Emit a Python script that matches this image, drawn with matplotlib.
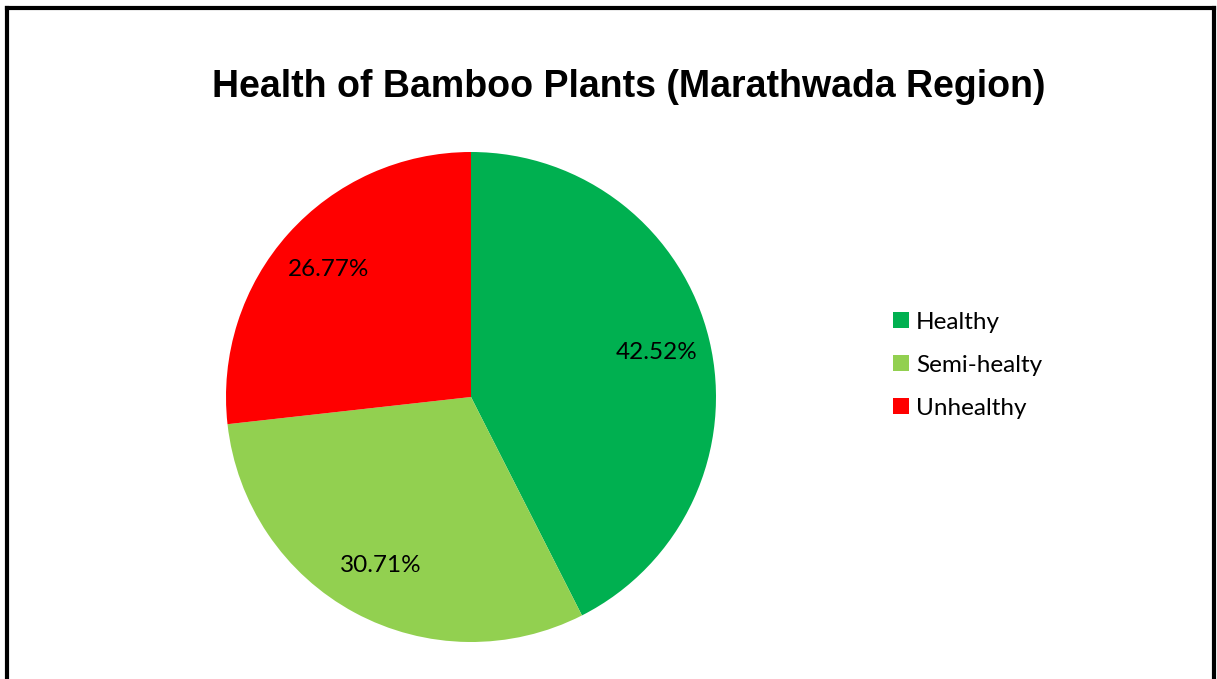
import matplotlib.pyplot as plt
from matplotlib.lines import Line2D

labels = ['Healthy', 'Semi-healty', 'Unhealthy']
shares = [42.52, 30.71, 26.77]
colors = ['#00B050', '#92D050', '#FF0000']

W, H = 1217, 679
fig = plt.figure(figsize=(W / 100, H / 100), dpi=100)

# pie area, in pixels from the reference
cx, cy, r = 471, 397, 245
ax = fig.add_axes([(cx - r) / W, (H - cy - r) / H, 2 * r / W, 2 * r / H])
wedges, _, autotexts = ax.pie(shares, colors=colors, startangle=90, counterclock=False,
                              autopct='%1.2f%%', pctdistance=0.78,
                              textprops={'family': 'Lato', 'fontsize': 17.5})
ax.set_xlim(-1, 1)
ax.set_ylim(-1, 1)
ax.set_aspect('equal')

fig.text(629 / W, 1 - 87 / H, 'Health of Bamboo Plants (Marathwada Region)',
         ha='center', va='center', fontsize=27, fontweight='bold', family='Liberation Sans')

leg = fig.legend(wedges, labels, loc='upper left', bbox_to_anchor=(871 / W, 1 - 290 / H),
                 frameon=False, prop={'family': 'Lato', 'size': 17.5},
                 handlelength=0.65, handleheight=0.65, handletextpad=0.3, labelspacing=0.9)

# outer frame (open at the bottom)
lw = 3
fig.add_artist(Line2D([7 / W, 7 / W], [0, 1 - 8 / H], color='black', lw=lw))
fig.add_artist(Line2D([7 / W, 1214 / W], [1 - 8 / H, 1 - 8 / H], color='black', lw=lw))
fig.add_artist(Line2D([1214 / W, 1214 / W], [1 - 8 / H, 0], color='black', lw=lw))

fig.savefig('out.png', dpi=100)
